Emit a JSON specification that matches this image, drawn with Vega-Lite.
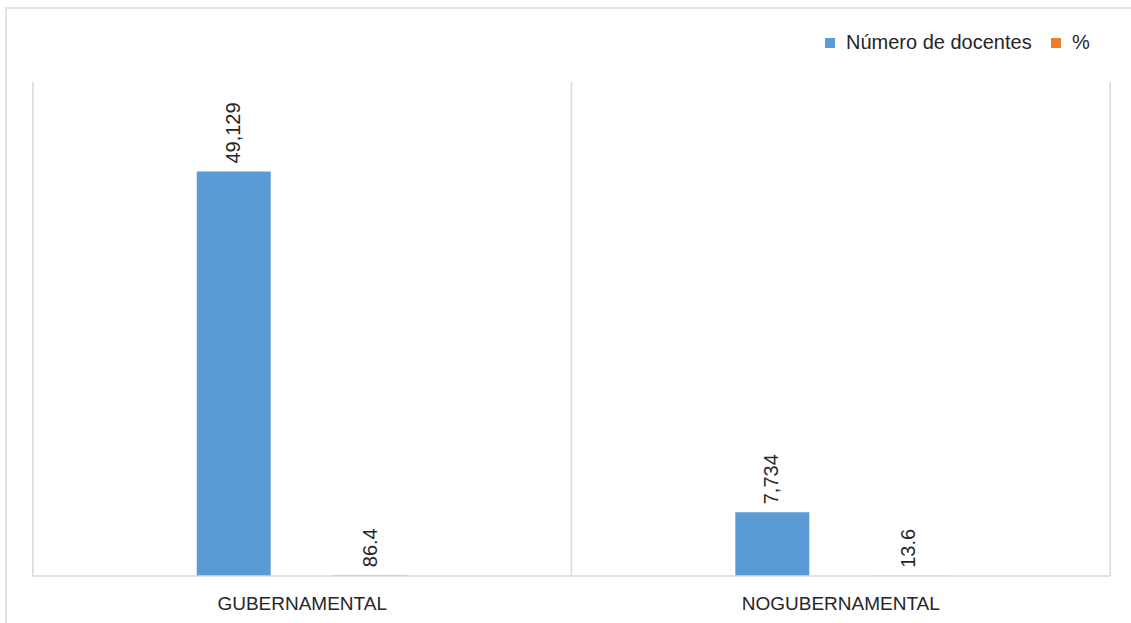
{
  "$schema": "https://vega.github.io/schema/vega-lite/v6.json",
  "autosize": {"type": "none"},
  "padding": {"left": 6, "top": 8, "right": 0, "bottom": 0},
  "width": 1131,
  "height": 642,
  "background": "white",
  "config": {
    "view": {"stroke": "#d9d9d9", "strokeWidth": 1.5},
    "font": "Liberation Sans"
  },
  "data": {
    "values": [
      {"sector": "GUBERNAMENTAL", "serie": "Número de docentes", "valor": 49129, "etiqueta": "49,129"},
      {"sector": "GUBERNAMENTAL", "serie": "%", "valor": 86.4, "etiqueta": "86.4"},
      {"sector": "NOGUBERNAMENTAL", "serie": "Número de docentes", "valor": 7734, "etiqueta": "7,734"},
      {"sector": "NOGUBERNAMENTAL", "serie": "%", "valor": 13.6, "etiqueta": "13.6"}
    ]
  },
  "layer": [
    {
      "mark": {"type": "bar"},
      "encoding": {
        "x": {
          "field": "sector", "type": "nominal",
          "scale": {"domain": ["GUBERNAMENTAL", "NOGUBERNAMENTAL"], "paddingInner": 0, "paddingOuter": 0.05},
          "axis": null
        },
        "xOffset": {
          "field": "serie", "type": "nominal",
          "scale": {"domain": ["_izq", "Número de docentes", "%", "_der"], "paddingInner": 0.46, "paddingOuter": 0.196}
        },
        "y": {
          "field": "valor", "type": "quantitative",
          "scale": {"domain": [-9000, 69000], "nice": false, "zero": false},
          "axis": null
        },
        "color": {
          "field": "serie", "type": "nominal",
          "scale": {"domain": ["Número de docentes", "%"], "range": ["#5B9BD5", "#ED7D31"]},
          "legend": {
            "orient": "none", "legendX": 814, "legendY": 25, "direction": "horizontal",
            "title": null, "symbolType": "square", "symbolSize": 100, "symbolStrokeWidth": 0,
            "labelFontSize": 20, "labelColor": "#262626", "labelFont": "Liberation Sans",
            "labelLimit": 0, "columnPadding": 14, "labelOffset": 6
          }
        }
      }
    },
    {
      "mark": {"type": "text", "angle": -90, "align": "left", "baseline": "middle", "dx": 8, "fontSize": 20, "color": "#262626"},
      "encoding": {
        "x": {"field": "sector", "type": "nominal", "axis": null},
        "xOffset": {"field": "serie", "type": "nominal"},
        "y": {"field": "valor", "type": "quantitative", "axis": null},
        "text": {"field": "etiqueta"}
      }
    },
    {
      "transform": [{"filter": "datum.serie === 'Número de docentes'"}],
      "mark": {"type": "text", "align": "center", "baseline": "middle", "fontSize": 19, "color": "#262626"},
      "encoding": {
        "x": {"field": "sector", "type": "nominal", "axis": null},
        "y": {"datum": -3450, "type": "quantitative", "axis": null},
        "text": {"field": "sector"}
      }
    },
    {
      "transform": [{"filter": "datum.serie === 'Número de docentes'"}],
      "mark": {"type": "rule", "color": "#d9d9d9", "strokeWidth": 1.5},
      "encoding": {
        "x": {"field": "sector", "type": "nominal", "bandPosition": 0, "axis": null},
        "y": {"datum": 0, "type": "quantitative", "axis": null},
        "y2": {"datum": 60000}
      }
    },
    {
      "transform": [{"filter": "datum.serie === 'Número de docentes' && datum.sector === 'NOGUBERNAMENTAL'"}],
      "mark": {"type": "rule", "color": "#d9d9d9", "strokeWidth": 1.5},
      "encoding": {
        "x": {"field": "sector", "type": "nominal", "bandPosition": 1, "axis": null},
        "y": {"datum": 0, "type": "quantitative", "axis": null},
        "y2": {"datum": 60000}
      }
    },
    {
      "transform": [{"filter": "datum.serie === 'Número de docentes'"}],
      "mark": {"type": "bar", "fillOpacity": 0, "stroke": "#d9d9d9", "strokeWidth": 1.5},
      "encoding": {
        "x": {"field": "sector", "type": "nominal", "axis": null},
        "y": {"datum": 0, "type": "quantitative", "axis": null},
        "y2": {"datum": 0}
      }
    }
  ]
}
